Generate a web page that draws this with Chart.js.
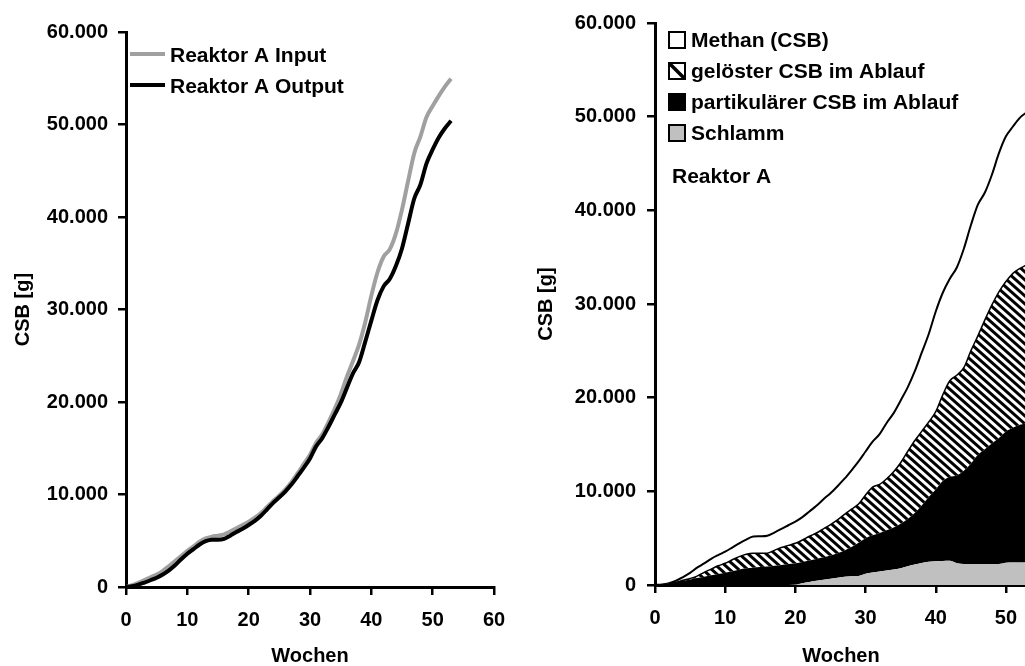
<!DOCTYPE html>
<html>
<head>
<meta charset="utf-8">
<script src="https://cdn.jsdelivr.net/npm/chart.js@4.4.1/dist/chart.umd.min.js"></script>
<style>
    html, body { margin: 0; padding: 0; background: #fff; overflow: hidden; }
    #wrap { position: relative; width: 1025px; height: 666px; overflow: hidden; }
    #left { position: absolute; left: 0; top: 0; }
    #right { position: absolute; left: 512px; top: 0; }
</style>
</head>
<body>
<div id="wrap">
    <canvas id="left" width="512" height="666"></canvas>
    <canvas id="right" width="520" height="666"></canvas>
</div>
<script>
// weeks (x values)
const weeks = [0,1,2,3,4,5,6,7,8,9,10,11,12,13,14,15,16,17,18,19,20,21,22,23,24,25,26,
    27,28,29,30,31,32,33,34,35,36,37,38,39,40,41,42,43,44,45,46,47,48,49,50,51,52,53];

// left chart: cumulative CSB [g]
const inputA = [0,200,450,750,1050,1350,1750,2250,2800,3350,3900,4400,4900,5250,5450,5550,5700,6000,
    6350,6700,7050,7500,8000,8650,9300,9900,10550,11350,12300,13300,14300,15600,16500,17800,19200,20800,
    22700,24400,26200,28600,31500,34000,35700,36500,38200,40800,43900,46900,48700,50800,52000,53100,54100,54950];
const outputA = [0,80,250,480,730,1000,1350,1800,2350,3000,3600,4100,4600,4950,5100,5100,5200,5550,
    5950,6300,6700,7150,7700,8400,9100,9700,10350,11100,12000,12900,13900,15200,16100,17300,18600,19900,
    21500,23100,24300,26500,28800,31000,32500,33300,34700,36600,39300,42000,43500,45800,47300,48600,49600,50400];

// right chart: upper edge of each layer (cumulative)
const schlamm = [0,0,0,0,0,0,0,0,0,0,0,0,0,0,0,0,0,0,0,0,50,200,330,450,560,660,780,880,930,960,
    1200,1330,1450,1550,1650,1800,2000,2180,2340,2480,2530,2560,2580,2330,2250,2230,2230,2240,2240,2240,
    2380,2390,2390,2390];
const partikulaer = [0,60,180,320,460,600,740,880,1030,1180,1320,1480,1640,1780,1850,1920,1970,2050,
    2140,2230,2320,2460,2610,2780,2950,3150,3400,3680,4050,4500,4990,5300,5550,5850,6150,6550,7050,7700,
    8500,9400,10200,11100,11550,11700,12200,12950,13900,14500,15100,15700,16400,16800,17100,17300];
const geloest = [0,30,120,280,500,700,950,1350,1700,2050,2320,2700,3030,3280,3380,3380,3400,3700,
    4000,4230,4450,4800,5200,5550,6000,6450,6950,7550,8100,8650,9600,10450,10750,11350,12100,13050,14250,
    15400,16400,17400,18500,20300,21800,22400,23200,25000,26600,28300,29900,31300,32400,33270,33800,34200];
const methan = [0,60,200,450,850,1300,1850,2300,2800,3200,3560,4000,4450,4850,5170,5200,5260,5600,
    5980,6380,6770,7250,7850,8450,9150,9800,10550,11350,12250,13200,14250,15300,16100,17300,18350,19700,
    21100,22800,24800,26800,29200,31200,32700,33900,35900,38400,40600,41900,43800,46100,47900,48950,49900,50500];

const yTicks = [0, 10000, 20000, 30000, 40000, 50000, 60000];

const fontFamily = "'Liberation Sans', Arial, sans-serif";

function fmt(v) {
    return String(v).replace(/\B(?=(\d{3})+(?!\d))/g, '.');
}

function pts(ys) {
    return weeks.map(function(w, i) { return { x: w, y: ys[i] }; });
}

// diagonal stripes, top-left to bottom-right
function makeHatch() {
    var c = document.createElement('canvas');
    c.width = 9; c.height = 8;
    var g = c.getContext('2d');
    g.fillStyle = '#fff';
    g.fillRect(0, 0, 9, 8);
    g.strokeStyle = '#000';
    g.lineWidth = 3;
    [-9, 0, 9].forEach(function(k) {
        g.beginPath();
        g.moveTo(k - 2.7, -2.4);
        g.lineTo(k + 11.7, 10.4);
        g.stroke();
    });
    return g.createPattern(c, 'repeat');
}

function makeScales(yWidth, xHeight, xMax, yTickPad, xTickPad) {
    var tickFont = { family: fontFamily, size: 20, weight: 'bold' };
    return {
        x: {
            type: 'linear', min: 0, max: xMax,
            border: { display: true, color: '#000', width: 3 },
            grid: { display: true, drawOnChartArea: false, drawTicks: true, tickLength: 8, color: '#000', lineWidth: 2.5 },
            ticks: { stepSize: 10, includeBounds: false, color: '#000', font: tickFont, padding: xTickPad, maxRotation: 0 },
            title: { display: true, text: 'Wochen', color: '#000',
                font: { family: fontFamily, size: 20, weight: 'bold', lineHeight: 1.0 }, padding: { top: 0, bottom: 0 } },
            afterFit: function(s) { s.height = xHeight; s.paddingLeft = 0; s.paddingRight = 0; }
        },
        y: {
            min: 0, max: 60000,
            border: { display: true, color: '#000', width: 3 },
            grid: { display: true, drawOnChartArea: false, drawTicks: true, tickLength: 8, color: '#000', lineWidth: 2.5 },
            afterBuildTicks: function(s) { s.ticks = yTicks.map(function(v) { return { value: v }; }); },
            ticks: { color: '#000', font: tickFont, padding: yTickPad, callback: function(v) { return fmt(v); } },
            title: { display: true, text: 'CSB [g]', color: '#000',
                font: { family: fontFamily, size: 20, weight: 'bold', lineHeight: 1.2 }, padding: { top: 4, bottom: 4 } },
            afterFit: function(s) { s.width = yWidth; s.paddingTop = 0; s.paddingBottom = 0; }
        }
    };
}

// legend of the left chart, drawn inside the plot
const leftLegend = {
    id: 'leftLegend',
    afterDraw: function(chart) {
        var ctx = chart.ctx;
        ctx.save();
        ctx.font = 'bold 21px ' + fontFamily;
        ctx.textBaseline = 'middle';
        ctx.fillStyle = '#000';
        var rows = [{ ds: 0, y: 54 }, { ds: 1, y: 85 }];
        rows.forEach(function(r) {
            var ds = chart.data.datasets[r.ds];
            ctx.strokeStyle = ds.borderColor;
            ctx.lineWidth = 4;
            ctx.beginPath();
            ctx.moveTo(130, r.y);
            ctx.lineTo(165, r.y);
            ctx.stroke();
            ctx.fillText(ds.label, 170, r.y + 2);
        });
        ctx.restore();
    }
};

// legend of the right chart (top layer first)
const rightLegend = {
    id: 'rightLegend',
    afterDraw: function(chart) {
        var ctx = chart.ctx;
        ctx.save();
        ctx.font = 'bold 21px ' + fontFamily;
        ctx.textBaseline = 'middle';
        var order = [3, 2, 1, 0];
        order.forEach(function(idx, i) {
            var ds = chart.data.datasets[idx];
            var top = 32 + i * 31;
            if (idx === 2) {
                ctx.fillStyle = '#fff';
                ctx.fillRect(157, top, 16, 16);
                ctx.save();
                ctx.beginPath();
                ctx.rect(157, top, 16, 16);
                ctx.clip();
                ctx.strokeStyle = '#000';
                ctx.lineWidth = 3.5;
                ctx.beginPath();
                ctx.moveTo(157, top);
                ctx.lineTo(173, top + 16);
                ctx.stroke();
                ctx.restore();
            } else {
                ctx.fillStyle = ds.backgroundColor;
                ctx.fillRect(157, top, 16, 16);
            }
            ctx.strokeStyle = '#000';
            ctx.lineWidth = 2;
            ctx.strokeRect(157, top, 16, 16);
            ctx.fillStyle = '#000';
            ctx.fillText(ds.label, 179, top + 9);
        });
        ctx.fillText('Reaktor A', 160, 177);
        ctx.restore();
    }
};

new Chart(document.getElementById('left'), {
    type: 'line',
    data: {
        datasets: [{
            label: 'Reaktor A Input',
            data: pts(inputA),
            borderColor: '#a0a0a0',
            borderWidth: 4,
            pointRadius: 0,
            cubicInterpolationMode: 'monotone',
            fill: false,
            order: 1
        }, {
            label: 'Reaktor A Output',
            data: pts(outputA),
            borderColor: '#000',
            borderWidth: 4,
            pointRadius: 0,
            cubicInterpolationMode: 'monotone',
            fill: false,
            order: 0
        }]
    },
    options: {
        responsive: false,
        animation: false,
        layout: { padding: { left: 7, top: 32, right: 18, bottom: 0 } },
        plugins: { legend: { display: false }, tooltip: { enabled: false } },
        scales: makeScales(119, 79, 60, 10, 13)
    },
    plugins: [leftLegend]
});

new Chart(document.getElementById('right'), {
    type: 'line',
    data: {
        datasets: [{
            label: 'Schlamm',
            data: pts(schlamm),
            borderWidth: 0,
            backgroundColor: '#c0c0c0',
            pointRadius: 0,
            cubicInterpolationMode: 'monotone',
            fill: 'origin'
        }, {
            label: 'partikulärer CSB im Ablauf',
            data: pts(partikulaer),
            borderWidth: 0,
            backgroundColor: '#000',
            pointRadius: 0,
            cubicInterpolationMode: 'monotone',
            fill: '-1'
        }, {
            label: 'gelöster CSB im Ablauf',
            data: pts(geloest),
            borderColor: '#000',
            borderWidth: 1.5,
            backgroundColor: makeHatch(),
            pointRadius: 0,
            cubicInterpolationMode: 'monotone',
            fill: '-1'
        }, {
            label: 'Methan (CSB)',
            data: pts(methan),
            borderColor: '#000',
            borderWidth: 2,
            backgroundColor: '#fff',
            pointRadius: 0,
            cubicInterpolationMode: 'monotone',
            fill: '-1'
        }]
    },
    options: {
        responsive: false,
        animation: false,
        layout: { padding: { left: 18, top: 23, right: 5, bottom: 0 } },
        plugins: { legend: { display: false }, tooltip: { enabled: false } },
        scales: makeScales(125, 81, 53, 11, 13)
    },
    plugins: [rightLegend]
});
</script>
</body>
</html>
